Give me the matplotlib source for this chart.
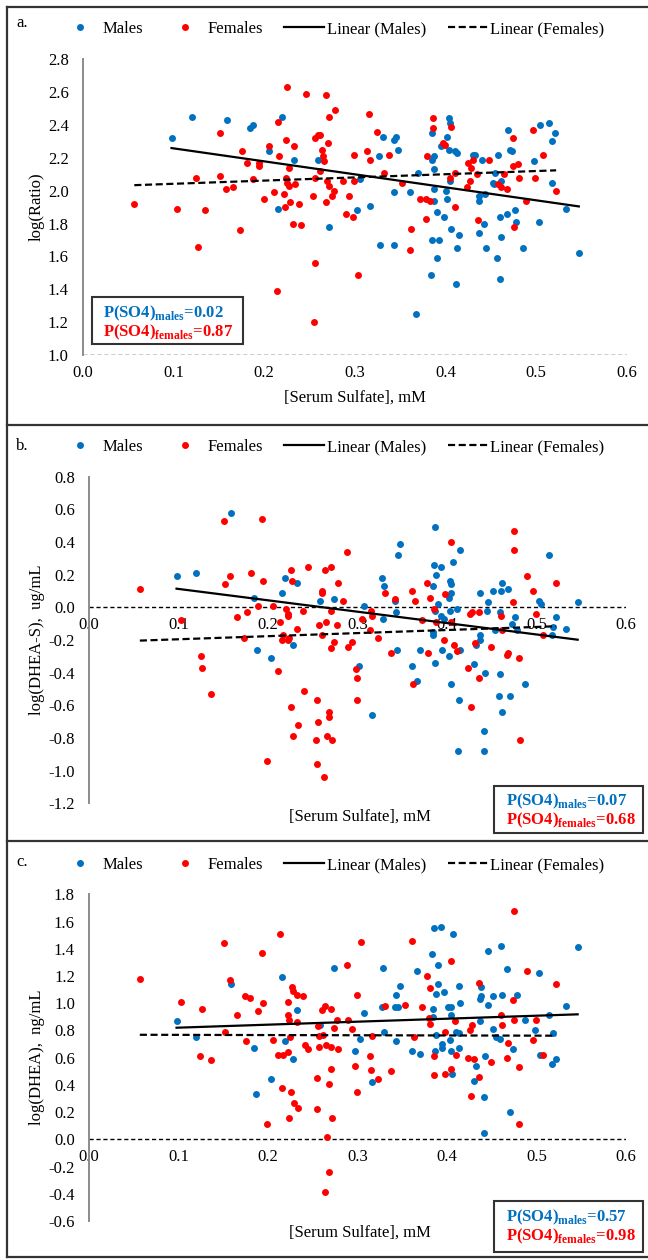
import numpy as np
import matplotlib
matplotlib.use('Agg')
import matplotlib.pyplot as plt
from matplotlib.lines import Line2D
from matplotlib.patches import Rectangle

plt.rcParams['font.family'] = ['Liberation Serif', 'DejaVu Serif']
plt.rcParams['mathtext.fontset'] = 'custom'
plt.rcParams['mathtext.rm'] = 'Liberation Serif'
plt.rcParams['mathtext.bf'] = 'Liberation Serif:bold'

# ---- data: [serum sulfate] (mM) vs log values ----
# panel a: log(Ratio)
a_male_x = [0.098, 0.121, 0.159, 0.184, 0.188, 0.220, 0.205, 0.215, 0.233, 0.259,
            0.272, 0.303, 0.306, 0.317, 0.327, 0.328, 0.331, 0.343, 0.343, 0.345,
            0.348, 0.343, 0.361, 0.370, 0.367, 0.385, 0.385, 0.387, 0.387, 0.387,
            0.387, 0.385, 0.384, 0.391, 0.391, 0.393, 0.395, 0.398, 0.402, 0.401,
            0.402, 0.404, 0.405, 0.404, 0.405, 0.406, 0.410, 0.413, 0.415, 0.413,
            0.412, 0.430, 0.433, 0.437, 0.437, 0.440, 0.442, 0.444, 0.437, 0.445,
            0.452, 0.455, 0.454, 0.458, 0.460, 0.457, 0.460, 0.461, 0.461, 0.468,
            0.469, 0.471, 0.473, 0.477, 0.478, 0.486, 0.498, 0.503, 0.504, 0.514,
            0.517, 0.517, 0.521, 0.533, 0.547]
a_male_y = [2.32, 2.45, 2.43, 2.38, 2.40, 2.45, 2.24, 1.89, 2.19, 2.19,
            1.78, 1.88, 2.07, 1.91, 2.21, 1.67, 2.33, 1.67, 2.31, 2.33,
            2.25, 1.99, 1.99, 2.11, 1.25, 2.35, 2.19, 2.21, 2.13, 2.01,
            1.94, 1.70, 1.49, 1.87, 1.59, 1.70, 2.27, 1.84, 2.33, 2.00,
            1.95, 2.44, 2.41, 2.25, 2.06, 1.77, 2.24, 2.23, 1.73, 1.65,
            1.43, 2.22, 2.22, 1.97, 1.94, 2.19, 1.80, 1.98, 1.74, 1.65,
            2.05, 2.11, 2.04, 2.22, 1.84, 1.59, 1.46, 1.72, 2.06, 1.86,
            2.37, 2.25, 2.24, 1.88, 1.81, 1.65, 2.18, 1.81, 2.40, 2.41,
            2.30, 2.05, 2.35, 1.89, 1.62]
a_female_x = [0.057, 0.104, 0.125, 0.127, 0.135, 0.152, 0.152, 0.158, 0.166, 0.174,
              0.176, 0.181, 0.188, 0.195, 0.195, 0.200, 0.206, 0.211, 0.214, 0.215,
              0.217, 0.222, 0.223, 0.224, 0.225, 0.224, 0.225, 0.227, 0.227, 0.229,
              0.232, 0.233, 0.234, 0.239, 0.241, 0.246, 0.254, 0.256, 0.256, 0.256,
              0.255, 0.260, 0.262, 0.262, 0.264, 0.265, 0.266, 0.268, 0.268, 0.269,
              0.271, 0.272, 0.272, 0.275, 0.277, 0.278, 0.287, 0.290, 0.294, 0.298,
              0.299, 0.299, 0.304, 0.314, 0.316, 0.317, 0.324, 0.332, 0.338, 0.352,
              0.362, 0.361, 0.372, 0.378, 0.378, 0.380, 0.383, 0.386, 0.386, 0.397,
              0.399, 0.405, 0.406, 0.410, 0.410, 0.424, 0.425, 0.427, 0.428, 0.430,
              0.435, 0.436, 0.448, 0.458, 0.461, 0.464, 0.468, 0.474, 0.474, 0.476,
              0.480, 0.481, 0.489, 0.496, 0.499, 0.507, 0.522]
a_female_y = [1.92, 1.89, 2.08, 1.66, 1.88, 2.35, 2.09, 2.01, 2.02, 1.76,
              2.24, 2.17, 2.07, 2.17, 2.15, 1.95, 2.27, 1.99, 1.39, 2.42,
              2.21, 1.98, 1.90, 2.08, 2.63, 2.31, 2.05, 2.14, 2.03, 1.93,
              1.80, 2.27, 2.04, 1.92, 1.79, 2.59, 1.97, 2.32, 2.08, 1.56,
              1.20, 2.34, 2.34, 2.12, 2.25, 2.21, 2.18, 2.58, 1.93, 2.06,
              2.29, 2.45, 2.03, 1.97, 2.00, 2.49, 2.06, 1.86, 1.97, 1.84,
              2.22, 2.06, 1.49, 2.24, 2.47, 2.19, 2.36, 2.11, 2.22, 2.05,
              1.77, 1.64, 1.95, 1.83, 1.95, 2.21, 1.94, 2.44, 2.38, 2.29,
              2.28, 2.08, 2.39, 1.90, 2.11, 2.02, 2.17, 2.06, 2.14, 2.19,
              2.10, 1.82, 2.19, 2.04, 2.02, 2.10, 2.01, 2.32, 2.15, 1.78,
              2.16, 2.08, 1.94, 2.37, 2.08, 2.22, 2.00]

# panel b: log(DHEA-S), ug/mL
b_male_x = [0.098, 0.120, 0.159, 0.184, 0.188, 0.204, 0.216, 0.219, 0.228, 0.233,
            0.258, 0.274, 0.302, 0.307, 0.316, 0.327, 0.330, 0.329, 0.342, 0.343,
            0.345, 0.348, 0.344, 0.361, 0.367, 0.370, 0.385, 0.384, 0.387, 0.388,
            0.390, 0.387, 0.384, 0.384, 0.387, 0.393, 0.393, 0.397, 0.395, 0.403,
            0.404, 0.405, 0.407, 0.402, 0.403, 0.402, 0.405, 0.411, 0.415, 0.415,
            0.413, 0.412, 0.430, 0.432, 0.437, 0.437, 0.437, 0.441, 0.441, 0.443,
            0.446, 0.445, 0.451, 0.454, 0.459, 0.460, 0.462, 0.459, 0.458, 0.461,
            0.468, 0.470, 0.473, 0.476, 0.478, 0.487, 0.503, 0.505, 0.514, 0.518,
            0.517, 0.522, 0.533, 0.546]
b_male_y = [0.19, 0.21, 0.58, 0.055, -0.26, -0.31, 0.09, 0.18, -0.23, 0.15,
            0.04, 0.05, -0.36, 0.01, -0.66, 0.18, 0.13, -0.07, 0.04, -0.03,
            0.32, 0.39, -0.26, -0.36, -0.45, -0.26, 0.26, 0.13, 0.49, 0.20,
            0.02, -0.02, -0.17, -0.15, -0.34, 0.25, -0.05, -0.07, -0.26, 0.16,
            0.14, 0.09, 0.28, 0.06, -0.02, -0.30, -0.47, -0.01, 0.35, -0.26,
            -0.57, -0.88, -0.35, -0.23, 0.09, -0.20, -0.17, -0.88, -0.76, -0.40,
            0.03, -0.02, 0.10, -0.14, -0.03, 0.10, 0.15, -0.41, -0.54, -0.64,
            0.11, -0.54, -0.10, -0.06, -0.14, -0.47, 0.04, 0.02, 0.32, -0.12,
            -0.17, -0.06, -0.13, 0.03]
b_female_x = [0.057, 0.103, 0.125, 0.126, 0.136, 0.151, 0.152, 0.158, 0.166, 0.173,
              0.177, 0.181, 0.189, 0.194, 0.195, 0.199, 0.206, 0.211, 0.213, 0.217,
              0.216, 0.220, 0.222, 0.223, 0.222, 0.224, 0.226, 0.226, 0.227, 0.228,
              0.232, 0.234, 0.239, 0.240, 0.245, 0.255, 0.256, 0.254, 0.255, 0.257,
              0.260, 0.261, 0.261, 0.263, 0.264, 0.265, 0.266, 0.268, 0.268, 0.270,
              0.271, 0.271, 0.272, 0.274, 0.277, 0.278, 0.284, 0.288, 0.290, 0.294,
              0.298, 0.300, 0.300, 0.305, 0.315, 0.316, 0.314, 0.323, 0.331, 0.338,
              0.342, 0.361, 0.364, 0.362, 0.372, 0.378, 0.379, 0.381, 0.386, 0.388,
              0.398, 0.397, 0.404, 0.405, 0.408, 0.411, 0.424, 0.426, 0.428, 0.427,
              0.431, 0.436, 0.436, 0.449, 0.460, 0.461, 0.467, 0.468, 0.474, 0.475,
              0.475, 0.481, 0.482, 0.489, 0.496, 0.499, 0.507, 0.522]
b_female_y = [0.11, -0.08, -0.30, -0.37, -0.53, 0.53, 0.14, 0.19, -0.06, -0.19,
              -0.03, 0.21, 0.01, 0.54, 0.16, -0.94, 0.01, -0.39, -0.09, -0.17,
              -0.20, -0.01, -0.05, -0.04, -0.20, -0.19, 0.23, -0.61, 0.16, -0.79,
              -0.13, -0.72, -0.02, -0.51, 0.25, -0.57, -0.70, -0.81, -0.96, -0.11,
              0.10, 0.09, -0.17, -1.04, 0.23, -0.09, -0.79, -0.67, -0.64, -0.25,
              -0.02, 0.25, -0.81, -0.21, -0.11, 0.15, 0.04, 0.34, -0.24, -0.21,
              -0.38, -0.43, -0.57, -0.07, -0.02, -0.05, -0.14, -0.19, 0.09, -0.28,
              0.05, 0.10, 0.04, -0.47, -0.08, 0.15, -0.28, 0.06, -0.01, -0.09,
              0.08, -0.20, 0.40, -0.09, -0.23, -0.27, -0.37, -0.04, -0.03, -0.61,
              -0.22, -0.03, -0.43, -0.24, -0.05, -0.14, -0.29, -0.28, 0.03, 0.35,
              0.47, -0.31, -0.81, 0.19, 0.10, -0.04, -0.17, 0.15]

# panel c: log(DHEA), ng/mL
c_male_x = [0.098, 0.120, 0.159, 0.184, 0.187, 0.204, 0.216, 0.219, 0.228, 0.233,
            0.258, 0.274, 0.297, 0.303, 0.307, 0.316, 0.327, 0.329, 0.330, 0.342,
            0.343, 0.343, 0.345, 0.348, 0.361, 0.367, 0.370, 0.383, 0.384, 0.384,
            0.386, 0.388, 0.388, 0.387, 0.390, 0.390, 0.393, 0.395, 0.395, 0.397,
            0.401, 0.403, 0.405, 0.404, 0.405, 0.406, 0.407, 0.410, 0.413, 0.414,
            0.414, 0.415, 0.430, 0.432, 0.437, 0.438, 0.438, 0.437, 0.441, 0.441,
            0.443, 0.446, 0.446, 0.451, 0.452, 0.455, 0.459, 0.460, 0.461, 0.467,
            0.470, 0.474, 0.478, 0.487, 0.498, 0.503, 0.504, 0.514, 0.517, 0.518,
            0.522, 0.533, 0.546]
c_male_y = [0.87, 0.75, 1.14, 0.67, 0.33, 0.44, 1.19, 0.72, 0.59, 0.95,
            0.84, 1.26, 0.65, 0.74, 0.93, 0.42, 0.97, 1.26, 0.79, 0.97,
            1.06, 0.72, 0.97, 1.13, 0.65, 1.24, 0.63, 1.36, 0.96, 0.90,
            1.55, 1.07, 0.77, 0.65, 1.28, 1.14, 1.56, 0.70, 0.67, 1.08,
            0.97, 0.73, 0.91, 0.97, 0.65, 0.48, 1.51, 0.79, 0.67, 0.78,
            1.13, 1.00, 0.43, 0.54, 0.87, 1.12, 1.05, 1.03, 0.31, 0.05,
            0.61, 0.99, 1.38, 0.81, 1.05, 0.75, 0.74, 1.42, 1.06, 1.25,
            0.20, 0.66, 1.06, 0.88, 0.80, 1.22, 0.62, 0.91, 0.55, 0.78,
            0.59, 0.98, 1.41]
c_female_x = [0.057, 0.103, 0.124, 0.126, 0.136, 0.151, 0.152, 0.158, 0.166, 0.174,
              0.176, 0.180, 0.189, 0.194, 0.195, 0.199, 0.206, 0.213, 0.211, 0.216,
              0.217, 0.222, 0.223, 0.224, 0.223, 0.224, 0.225, 0.226, 0.227, 0.228,
              0.229, 0.232, 0.232, 0.234, 0.239, 0.241, 0.245, 0.255, 0.255, 0.256,
              0.257, 0.257, 0.261, 0.262, 0.264, 0.264, 0.265, 0.266, 0.268, 0.268,
              0.270, 0.271, 0.271, 0.272, 0.274, 0.278, 0.277, 0.288, 0.290, 0.294,
              0.297, 0.299, 0.300, 0.304, 0.314, 0.315, 0.316, 0.323, 0.331, 0.338,
              0.353, 0.361, 0.363, 0.372, 0.378, 0.380, 0.381, 0.381, 0.385, 0.386,
              0.398, 0.398, 0.405, 0.405, 0.409, 0.410, 0.424, 0.426, 0.428, 0.427,
              0.430, 0.436, 0.436, 0.449, 0.460, 0.461, 0.467, 0.468, 0.474, 0.475,
              0.475, 0.481, 0.481, 0.489, 0.496, 0.499, 0.507, 0.522]
c_female_y = [1.18, 1.01, 0.61, 0.96, 0.58, 1.44, 0.79, 1.17, 0.91, 1.05,
              0.72, 1.04, 0.94, 1.37, 1.00, 0.11, 0.73, 1.51, 0.62, 0.38,
              0.62, 1.01, 0.91, 0.88, 0.64, 0.16, 0.75, 0.35, 1.12, 1.09,
              0.27, 0.86, 1.06, 0.23, 1.05, 0.69, 0.66, 0.45, 0.22, 0.83,
              0.68, 0.76, 0.95, 0.77, 0.98, -0.39, 0.69, 0.02, -0.24, 0.41,
              0.68, 0.96, 0.52, 0.16, 0.82, 0.66, 0.88, 1.28, 0.88, 0.81,
              0.54, 1.06, 0.35, 1.45, 0.61, 0.51, 0.76, 0.44, 0.98, 0.50,
              0.99, 1.46, 0.75, 0.97, 1.20, 0.89, 0.85, 1.11, 0.61, 0.47,
              0.79, 0.48, 1.31, 0.52, 0.87, 0.62, 0.60, 0.80, 0.84, 0.32,
              0.59, 1.15, 0.46, 0.57, 0.91, 0.84, 0.60, 0.71, 1.02, 1.68,
              0.88, 0.53, 0.11, 1.24, 0.73, 0.88, 0.62, 1.14]

x_ticks = [0.0, 0.1, 0.2, 0.3, 0.4, 0.5, 0.6]
legend_labels = ['Males', 'Females', 'Linear (Males)', 'Linear (Females)']
p_males = ['0.02', '0.07', '0.57']
p_females = ['0.87', '0.68', '0.98']

BLUE = '#0070C0'
RED = '#FF0000'
W, H = 648, 1260

fig = plt.figure(figsize=(W / 100, H / 100), dpi=100)


def fx(px):
    return px / W


def fy(py):
    return 1 - py / H


# pixel layout of each panel (left, right, top, bottom of data area, etc.)
panels = [
    dict(tag='a.', mx=a_male_x, my=a_male_y, fxs=a_female_x, fys=a_female_y,
         ylim=(1.0, 2.8), base=1.0, ylabel='log(Ratio)',
         box=(92, 297, 243, 344), l=82.6, r=626.9, t=59.3, b=355.0,
         tag_y=23, leg_y=29, xlab=(355, 398), lines_y=(313, 332), text_x=103),
    dict(tag='b.', mx=b_male_x, my=b_male_y, fxs=b_female_x, fys=b_female_y,
         ylim=(-1.2, 0.8), base=0.0, ylabel='log(DHEA-S),  ug/mL',
         box=(494, 786, 643, 833), l=88.8, r=626.0, t=476.7, b=803.3,
         tag_y=446, leg_y=447, xlab=(360, 817), lines_y=(801, 820), text_x=506),
    dict(tag='c.', mx=c_male_x, my=c_male_y, fxs=c_female_x, fys=c_female_y,
         ylim=(-0.6, 1.8), base=0.0, ylabel='log(DHEA),  ng/mL',
         box=(494, 1201, 643, 1252), l=88.8, r=626.0, t=894.3, b=1221.0,
         tag_y=862, leg_y=865, xlab=(360, 1233), lines_y=(1217, 1236), text_x=506),
]

for i, p in enumerate(panels):
    ax = fig.add_axes([fx(p['l']), fy(p['b']), (p['r'] - p['l']) / W,
                       (p['b'] - p['t']) / H])
    ax.set_xlim(0, 0.6)
    ax.set_ylim(*p['ylim'])

    ax.plot(p['mx'], p['my'], 'o', color=BLUE, ms=5, mec='none', zorder=3)
    ax.plot(p['fxs'], p['fys'], 'o', color=RED, ms=5, mec='none', zorder=3)

    # excel style linear trendlines
    for xs, ys, ls in [(p['mx'], p['my'], '-'), (p['fxs'], p['fys'], (0, (3.2, 1.6)))]:
        xs = np.array(xs)
        k, c = np.polyfit(xs, ys, 1)
        xx = np.array([xs.min(), xs.max()])
        ax.plot(xx, k * xx + c, color='black', lw=1.6, ls=ls, zorder=4)

    ax.axhline(p['base'], color='black', lw=1.0, ls=(0, (3, 2)), zorder=2)

    for s in ['top', 'right', 'bottom']:
        ax.spines[s].set_visible(False)
    ax.spines['left'].set_color('#8c8c8c')
    ax.spines['left'].set_linewidth(1.4)
    ax.spines['bottom'].set_position(('data', p['base']))

    lo, hi = p['ylim']
    yt = np.round(np.arange(lo, hi + 0.001, 0.2), 1) + 0.0
    ax.set_yticks(yt)
    ax.set_yticklabels(['%.1f' % abs(v) if abs(v) < 1e-9 else '%.1f' % v for v in yt])
    ax.set_xticks(x_ticks)
    ax.set_xticklabels(['%.1f' % v for v in x_ticks])
    ax.tick_params(axis='both', length=0, labelsize=12)
    ax.tick_params(axis='y', pad=10)
    ax.tick_params(axis='x', pad=7)
    ax.patch.set_visible(False)

    fig.text(fx(37), fy((p['t'] + p['b']) / 2), p['ylabel'], rotation=90,
             ha='center', va='center', fontsize=12)
    fig.text(fx(p['xlab'][0]), fy(p['xlab'][1]), '[Serum Sulfate], mM',
             ha='center', va='center', fontsize=12)
    fig.text(fx(16), fy(p['tag_y']), p['tag'], ha='left', va='center', fontsize=12)

    handles = [Line2D([], [], ls='none', marker='o', color=BLUE, ms=5, mec='none'),
               Line2D([], [], ls='none', marker='o', color=RED, ms=5, mec='none'),
               Line2D([], [], color='black', lw=1.6),
               Line2D([], [], color='black', lw=1.6, ls=(0, (3.2, 1.6)))]
    fig.legend(handles, legend_labels, loc='center left',
               bbox_to_anchor=(fx(60), fy(p['leg_y'])), ncol=4, frameon=False,
               fontsize=12, handlelength=2.4, handletextpad=0.15,
               columnspacing=1.3, borderpad=0, borderaxespad=0)

    # p-value box
    x0, y0, x1, y1 = p['box']
    fig.add_artist(Rectangle((fx(x0), fy(y1)), (x1 - x0) / W, (y1 - y0) / H,
                             transform=fig.transFigure, fill=True, fc='white',
                             ec='#333333', lw=1.5, zorder=5))
    fig.text(fx(p['text_x']), fy(p['lines_y'][0]),
             r'P(SO4)$_{\mathbf{males}}$=' + p_males[i], color=BLUE,
             fontweight='bold', fontsize=12, ha='left', va='center', zorder=6)
    fig.text(fx(p['text_x']), fy(p['lines_y'][1]),
             r'P(SO4)$_{\mathbf{females}}$=' + p_females[i], color=RED,
             fontweight='bold', fontsize=12, ha='left', va='center', zorder=6)

# chart frames
for yy in [7, 425, 841, 1257]:
    fig.add_artist(Line2D([fx(7), 1], [fy(yy), fy(yy)], transform=fig.transFigure,
                          color='#333333', lw=1.6))
fig.add_artist(Line2D([fx(7), fx(7)], [fy(7), fy(1257)], transform=fig.transFigure,
                      color='#333333', lw=1.6))

fig.savefig('out.png', dpi=100)
